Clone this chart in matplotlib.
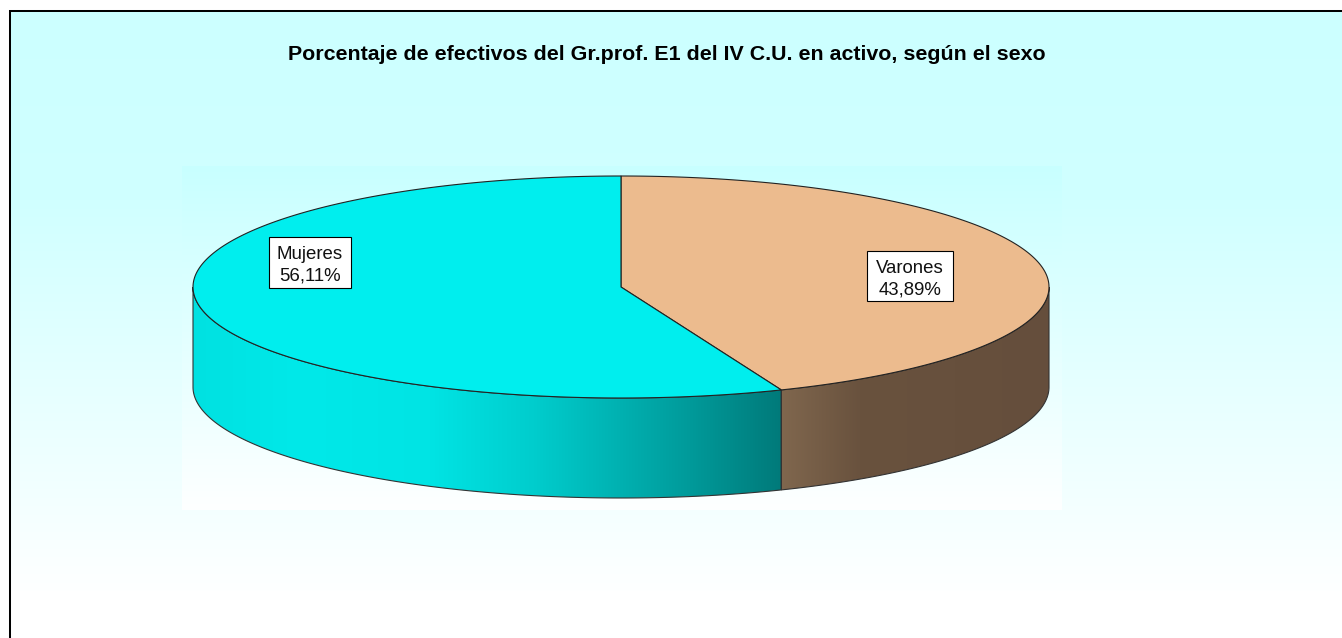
import numpy as np
import matplotlib
matplotlib.use('Agg')
import matplotlib.pyplot as plt
from matplotlib.patches import Polygon, Rectangle

title = 'Porcentaje de efectivos del Gr.prof. E1 del IV C.U. en activo, según el sexo'
labels = ['Varones', 'Mujeres']
shares = [43.89, 56.11]
pct_text = ['43,89%', '56,11%']

W, H = 1342, 638
cx, cy = 621, 287
rx, ry = 428, 111
depth = 100

plt.rcParams['font.family'] = ['Liberation Sans', 'DejaVu Sans']

fig = plt.figure(figsize=(W / 100, H / 100), dpi=100, facecolor='white')
ax = fig.add_axes([0, 0, 1, 1])
ax.set_xlim(0, W)
ax.set_ylim(H, 0)
ax.axis('off')


def vgrad(x0, x1, y0, y1, ys, reds, z):
    # light blue to white, only the red channel changes
    yy = np.arange(y0, y1) + 0.5
    r = np.interp(yy, ys, reds) / 255.
    img = np.ones((len(yy), 1, 3))
    img[:, 0, 0] = r
    ax.imshow(img, extent=[x0, x1, y1, y0], aspect='auto', zorder=z, interpolation='nearest')


def rim(a0, a1, n=200):
    a = np.radians(np.linspace(a0, a1, n))
    return cx + rx * np.sin(a), cy - ry * np.cos(a)


vgrad(11, W, 12, H, [12, 200, 600], [204, 208, 255], 1)
vgrad(182, 1062, 166, 510, [166, 510], [200, 254], 2)

# border, top and left only
ax.plot([10, 10, W], [H, 11, 11], color='black', lw=1.45, zorder=3, solid_joinstyle='miter')

cut = shares[0] / 100 * 360

# side wall, colours only depend on x
stops = {
    'Varones': ([781, 860, 1049], [(128, 103, 78), (105, 82, 62), (101, 78, 60)], 90, cut),
    'Mujeres': ([193, 300, 430, 534, 611, 687, 781],
                [(0, 225, 225), (0, 233, 233), (0, 228, 228), (0, 205, 205), (0, 180, 180), (0, 155, 155),
                 (0, 122, 122)], cut, 270),
}
for name in labels:
    xs, cols, a0, a1 = stops[name]
    px, py = rim(a0, a1)
    outline = np.vstack([np.c_[px, py], np.c_[px[::-1], py[::-1] + depth]])
    x0, x1 = int(px.min()), int(np.ceil(px.max()))
    xx = np.arange(x0, x1) + 0.5
    cols = np.array(cols, dtype=float)
    img = np.stack([np.interp(xx, xs, cols[:, k]) for k in range(3)], axis=1)[None, :, :] / 255.
    im = ax.imshow(img, extent=[x0, x1, cy + ry + depth + 5, cy - 5], aspect='auto', zorder=4, interpolation='nearest')
    patch = Polygon(outline, closed=True, fc='none', ec='#333333', lw=0.8, zorder=5)
    ax.add_patch(patch)
    im.set_clip_path(patch)

# top of the pie
tops = {'Varones': ('#ECBB8E', 0, cut), 'Mujeres': ('#00EEEE', cut, 360)}
for name in labels:
    col, a0, a1 = tops[name]
    px, py = rim(a0, a1)
    pts = np.vstack([[cx, cy], np.c_[px, py]])
    ax.add_patch(Polygon(pts, closed=True, fc=col, ec='#222222', lw=0.8, zorder=6))

ax.text(666.5, 55, title, ha='center', va='center', fontsize=15.4, fontweight='bold', color='black', zorder=8)

boxes = {'Varones': (910, 276, 86, 50), 'Mujeres': (310, 262.5, 82, 51)}
for i, name in enumerate(labels):
    bx, by, bw, bh = boxes[name]
    ax.add_patch(Rectangle((bx - bw / 2, by - bh / 2), bw, bh, fc='white', ec='black', lw=0.8, zorder=7))
    ax.text(bx, by + 3, name + '\n' + pct_text[i], ha='center', va='center', fontsize=13.4, color='#111111',
            linespacing=1.35, zorder=8)

ax.set_xlim(0, W)
ax.set_ylim(H, 0)
fig.savefig('out.png', dpi=100)
